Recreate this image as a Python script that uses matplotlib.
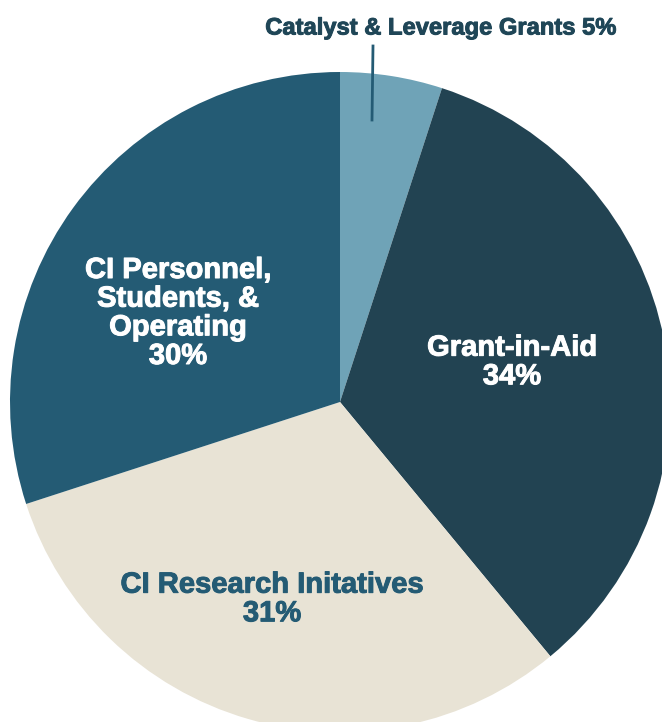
import matplotlib.pyplot as plt
import matplotlib.patheffects as pe

labels = ['Catalyst & Leverage Grants', 'Grant-in-Aid',
          'CI Research Initatives', 'CI Personnel,\nStudents, &\nOperating']
shares = [5, 34, 31, 30]
colors = ['#6fa3b7', '#224352', '#e8e3d5', '#245b74']

R = 330.0  # pie radius in pixels
CX, CY = 340.0, 402.0


def px(x, y):
    '''pixel -> data coords'''
    return (x - CX) / R, (CY - y) / R


def heavy(color):
    '''thicker bold strokes'''
    return [pe.withStroke(linewidth=0.7, foreground=color)]


fig = plt.figure(figsize=(6.62, 7.22), dpi=100)
ax = fig.add_axes([0, 0, 1, 1])
ax.pie(shares, colors=colors, startangle=90, counterclock=False,
       radius=1, wedgeprops=dict(linewidth=0))
ax.set_xlim(-CX / R, (662 - CX) / R)
ax.set_ylim((CY - 722) / R, CY / R)
ax.set_aspect('equal')
ax.axis('off')

font = dict(family='Liberation Sans', weight='bold', fontsize=21,
            ha='center', va='center', linespacing=1.03)

x, y = px(441, 28)
ax.text(x, y, f'{labels[0]} {shares[0]}%', color='#1f4657',
        path_effects=heavy('#1f4657'), **{**font, 'fontsize': 17.1})
x0, y0 = px(373, 46)
x1, y1 = px(372, 120)
ax.plot([x0, x1], [y0, y1], color='#245b74', lw=2)

x, y = px(512, 362)
ax.text(x, y, f'{labels[1]}\n{shares[1]}%', color='white',
        path_effects=heavy('white'), **font)
x, y = px(272, 599)
ax.text(x, y, f'{labels[2]}\n{shares[2]}%', color='#245b74',
        path_effects=heavy('#245b74'), **font)
x, y = px(178, 313)
ax.text(x, y, f'{labels[3]}\n{shares[3]}%', color='white',
        path_effects=heavy('white'), **font)

fig.savefig('out.png', dpi=100)
